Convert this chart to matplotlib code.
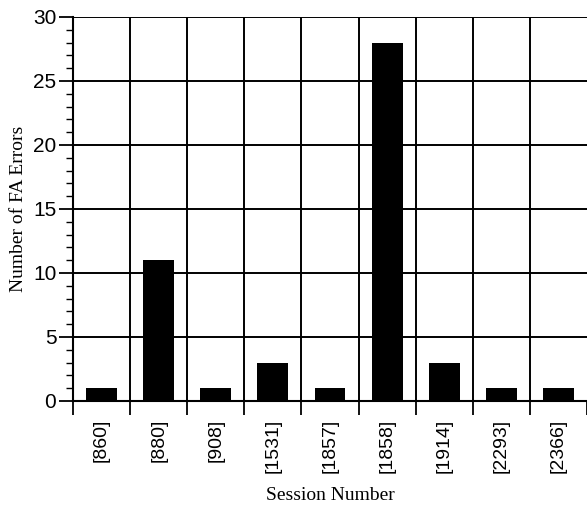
import matplotlib
matplotlib.use("Agg")
import matplotlib.pyplot as plt
import numpy as np
from matplotlib.ticker import MultipleLocator, FixedLocator, NullFormatter

sessions = ["[860]", "[880]", "[908]", "[1531]", "[1857]", "[1858]", "[1914]", "[2293]", "[2366]"]
errors = [1, 11, 1, 3, 1, 28, 3, 1, 1]

fig = plt.figure(figsize=(5.87, 5.12), dpi=100)
ax = fig.add_axes([73/587, 1-401/512, (587-73)/587, (401-17)/512])

x = np.arange(len(sessions))
ax.bar(x, errors, width=0.54, color="black", zorder=3)

ax.set_xlim(-0.5, len(sessions) - 0.5)
ax.set_ylim(0, 30)

# gridlines
for b in np.arange(0.5, len(sessions) - 0.5, 1):
    ax.axvline(b, color="black", lw=1.4, zorder=1)
for yv in range(5, 31, 5):
    ax.axhline(yv, color="black", lw=1.4, zorder=1)

ax.spines["top"].set_visible(False)
ax.spines["right"].set_visible(False)
ax.spines["left"].set_linewidth(1.5)
ax.spines["bottom"].set_linewidth(1.5)
ax.spines["left"].set_zorder(4)
ax.spines["bottom"].set_zorder(4)

ax.yaxis.set_major_locator(MultipleLocator(5))
ax.yaxis.set_minor_locator(MultipleLocator(1))
ax.tick_params(axis="y", which="major", direction="out", length=10, width=1.3, labelsize=15, pad=2)
ax.tick_params(axis="y", which="minor", direction="out", length=5, width=1.0)

ax.set_xticks(x)
ax.set_xticklabels(sessions, rotation=90, fontsize=14)
ax.tick_params(axis="x", which="major", length=0, pad=13)
ax.xaxis.set_minor_locator(FixedLocator(np.arange(-0.5, len(sessions), 1)))
ax.xaxis.set_minor_formatter(NullFormatter())
ax.tick_params(axis="x", which="minor", direction="out", length=10, width=1.3)

for lab in ax.get_xticklabels() + ax.get_yticklabels():
    lab.set_fontfamily("Liberation Sans")

ax.set_xlabel("Session Number", fontfamily="Liberation Serif", fontsize=14, labelpad=10)
ax.set_ylabel("Number of FA Errors", fontfamily="Liberation Serif", fontsize=14, labelpad=4)

fig.savefig("out.png", dpi=100)
